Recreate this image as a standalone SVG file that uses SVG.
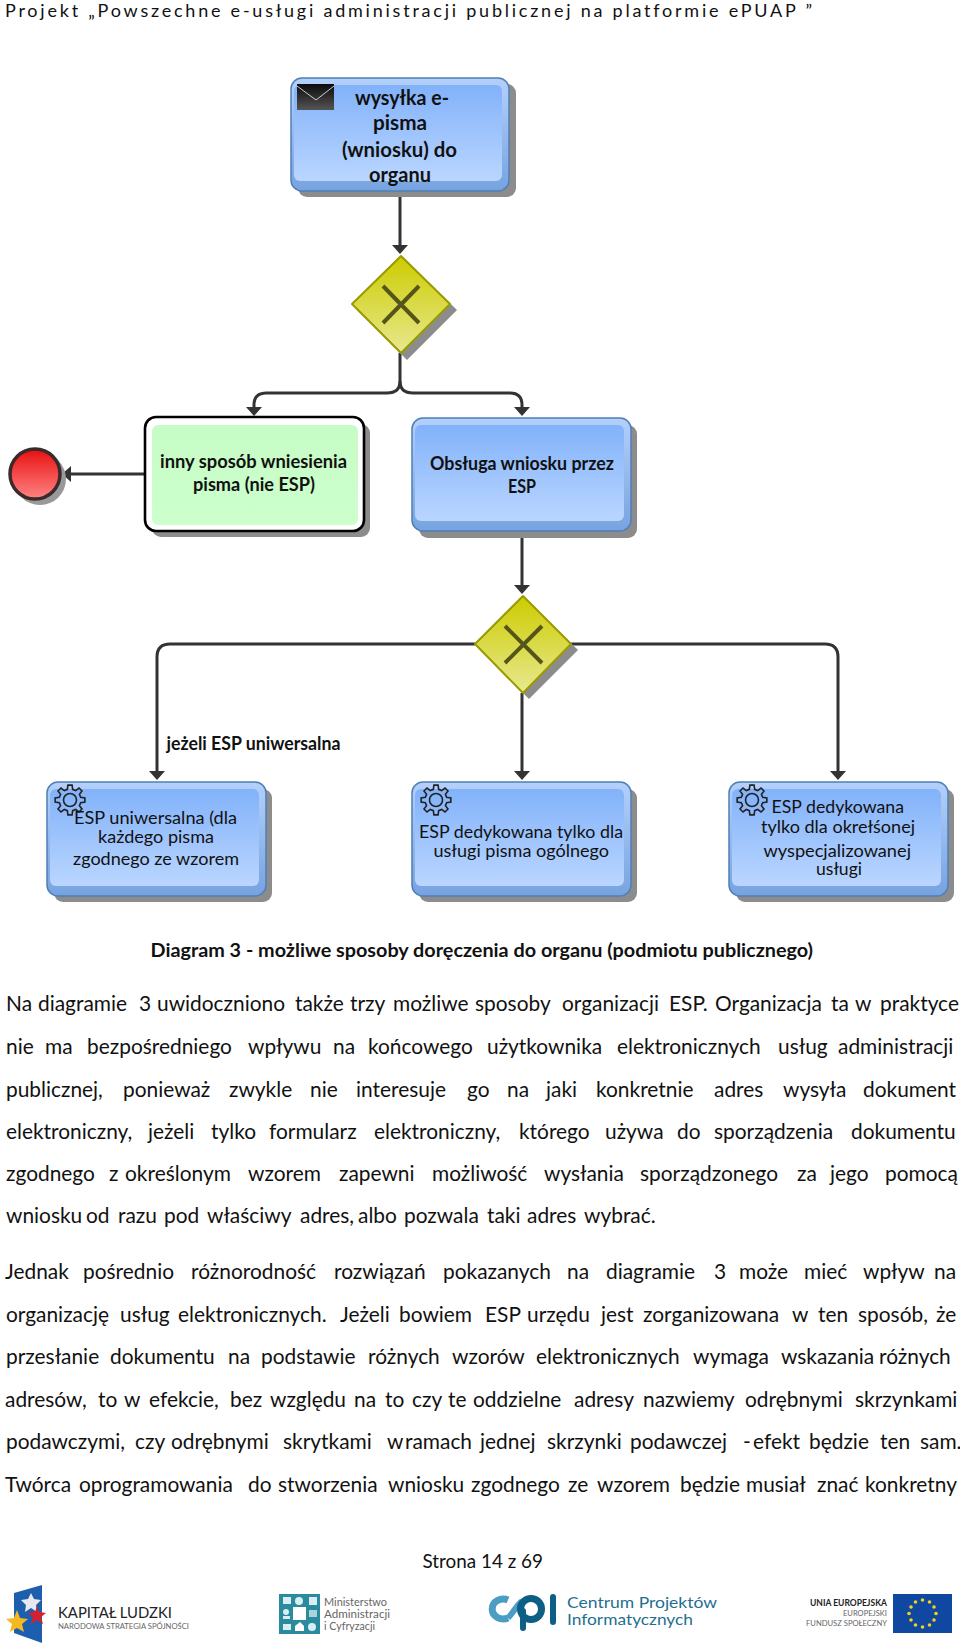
<svg xmlns="http://www.w3.org/2000/svg" width="960" height="1648" viewBox="0 0 960 1648">
<style>
text{font-family:Lato,"Liberation Sans",sans-serif;fill:#111;font-variant-ligatures:none}
.b{font-size:20.900px}
.n{font-size:17.500px;text-anchor:start}
.s{font-weight:700;font-size:18px}
.big{font-weight:700;font-size:20px}
.sh{fill:#8c8c8c}
.box{stroke:#4f7fb5;stroke-width:1.5;fill:url(#bo)}
.in{fill:url(#bi)}
.c{fill:none;stroke:#333;stroke-width:3}
.a{marker-end:url(#ar)}
.g{fill:none;stroke:#222;stroke-width:1.6}
.d{fill:url(#dy);stroke:#9a9a00;stroke-width:2;stroke-linejoin:round}
.x{stroke:#55551a;stroke-width:4;fill:none}
.l{fill:#666}
</style>
<defs>
<linearGradient id="bo" x1="0" y1="0" x2="0" y2="1"><stop offset="0" stop-color="#b4d0fb"/><stop offset="1" stop-color="#76a3e0"/></linearGradient>
<linearGradient id="bi" x1="0" y1="0" x2="0" y2="1"><stop offset="0" stop-color="#82b2fa"/><stop offset="1" stop-color="#bad6ff"/></linearGradient>
<linearGradient id="gi" x1="0" y1="0" x2="0" y2="1"><stop offset="0" stop-color="#c6fcc6"/><stop offset="1" stop-color="#ccffcc"/></linearGradient>
<linearGradient id="dy" x1="0" y1="0" x2="0" y2="1"><stop offset="0" stop-color="#cccc00"/><stop offset="1" stop-color="#e8e890"/></linearGradient>
<linearGradient id="rd" x1="0" y1="0" x2="0" y2="1"><stop offset="0" stop-color="#e80f0f"/><stop offset="1" stop-color="#ff8484"/></linearGradient>
<linearGradient id="ev" x1="0" y1="0" x2="0" y2="1"><stop offset="0" stop-color="#0a0a0a"/><stop offset="1" stop-color="#555"/></linearGradient>
<marker id="ar" markerUnits="userSpaceOnUse" markerWidth="9" markerHeight="16" refX="6" refY="8" orient="auto" viewBox="0 0 9 16"><path d="M0,0L9,8L0,16Z" fill="#333"/></marker>
<path id="gear" class="g" d="M14.85,-2.09L14.85,2.09 10.67,2.66 9.43,5.67 11.98,9.03 9.03,11.98 5.67,9.43 2.66,10.67 2.09,14.85 -2.09,14.85 -2.66,10.67 -5.67,9.43 -9.03,11.98 -11.98,9.03 -9.43,5.67 -10.67,2.66 -14.85,2.09 -14.85,-2.09 -10.67,-2.66 -9.43,-5.67 -11.98,-9.03 -9.03,-11.98 -5.67,-9.43 -2.66,-10.67 -2.09,-14.85 2.09,-14.85 2.66,-10.67 5.67,-9.43 9.03,-11.98 11.98,-9.03 9.43,-5.67 10.67,-2.66Z"/>
</defs>
<rect width="960" height="1648" fill="#fff"/>
<text id="header" x="5" y="17" font-size="18" textLength="807" lengthAdjust="spacing">Projekt „Powszechne e-usługi administracji publicznej na platformie ePUAP ”</text>

<g id="connectors">
<path class="c a" d="M400,190V251"/>
<path class="c a" d="M400,353V381Q400,393 387,393H266Q254,393 254,405V413"/>
<path class="c a" d="M400,381Q400,393 413,393H510Q522,393 522,405V413"/>
<path class="c a" d="M145,474H65"/>
<path class="c a" d="M522,531V591"/>
<path class="c a" d="M475,644H170Q157,644 157,657V777"/>
<path class="c a" d="M522,693V777"/>
<path class="c a" d="M571,644H825Q838,644 838,657V777"/>
</g>

<g id="n-wysylka">
<rect class="sh" x="298" y="84" width="218" height="113" rx="9"/>
<rect class="box" x="291" y="78" width="218" height="113" rx="11"/>
<rect class="in" x="294" y="85" width="208" height="96" rx="6"/>
<rect x="297" y="84" width="37" height="26" fill="url(#ev)"/>
<path d="M297,86L316,100L334,86" fill="none" stroke="#ccc" stroke-width="1"/>
<text class="big" x="355" y="105" textLength="94" lengthAdjust="spacingAndGlyphs">wysyłka e-</text>
<text class="big" x="373" y="130" textLength="54" lengthAdjust="spacingAndGlyphs">pisma</text>
<text class="big" x="342" y="157" textLength="115" lengthAdjust="spacingAndGlyphs">(wniosku) do</text>
<text class="big" x="369" y="182" textLength="62" lengthAdjust="spacingAndGlyphs">organu</text>
</g>

<g id="n-gateway1">
<path class="sh" d="M407,262L457,310L407,360L357,310Z"/>
<path class="d" d="M401,256L450,304L401,353L352,304Z"/>
<path class="x" d="M383,286L419,323M419,286L383,323"/>
</g>

<g id="n-inny">
<rect class="sh" x="152" y="424" width="218" height="113" rx="9"/>
<rect x="145" y="417" width="219" height="114" rx="11" fill="#fff" stroke="#000" stroke-width="2.6"/>
<rect x="152" y="425" width="206" height="100" rx="6" fill="url(#gi)"/>
<text class="s" x="160" y="468" textLength="187" lengthAdjust="spacingAndGlyphs">inny sposób wniesienia</text>
<text class="s" x="193" y="491" textLength="122" lengthAdjust="spacingAndGlyphs">pisma (nie ESP)</text>
</g>

<g id="n-obsluga">
<rect class="sh" x="419" y="425" width="218" height="113" rx="9"/>
<rect class="box" x="412" y="418" width="219" height="113" rx="11"/>
<rect class="in" x="415" y="425" width="209" height="96" rx="6"/>
<text class="s" x="430" y="470" textLength="184" lengthAdjust="spacingAndGlyphs">Obsługa wniosku przez</text>
<text class="s" x="508" y="493" textLength="28" lengthAdjust="spacingAndGlyphs">ESP</text>
</g>

<g id="n-end">
<circle cx="40" cy="479" r="26" fill="#999"/>
<circle cx="35" cy="474" r="25" fill="url(#rd)" stroke="#3a2a2a" stroke-width="3.500"/>
</g>

<g id="n-gateway2">
<path class="sh" d="M529,602L578,650L529,699L480,650Z"/>
<path class="d" d="M523,596L571,644L523,693L475,644Z"/>
<path class="x" d="M505,626L542,663M542,626L505,663"/>
</g>

<text id="label-uni" class="s" x="166.500" y="750" textLength="174" lengthAdjust="spacingAndGlyphs">jeżeli ESP uniwersalna</text>

<g id="n-uni">
<rect class="sh" x="54" y="789" width="218" height="113" rx="9"/>
<rect class="box" x="47" y="782" width="219" height="114" rx="11"/>
<rect class="in" x="50" y="789" width="209" height="97" rx="6"/>
<use href="#gear" transform="translate(70,800)"/><circle class="g" cx="70" cy="800" r="6.500"/>
<text class="n" x="74" y="824" textLength="163" lengthAdjust="spacingAndGlyphs">ESP uniwersalna (dla</text>
<text class="n" x="98" y="843" textLength="116" lengthAdjust="spacingAndGlyphs">każdego pisma</text>
<text class="n" x="73" y="865" textLength="166" lengthAdjust="spacingAndGlyphs">zgodnego ze wzorem</text>
</g>

<g id="n-ogolna">
<rect class="sh" x="419" y="789" width="218" height="113" rx="9"/>
<rect class="box" x="412" y="782" width="219" height="114" rx="11"/>
<rect class="in" x="415" y="789" width="209" height="97" rx="6"/>
<use href="#gear" transform="translate(436,800)"/><circle class="g" cx="436" cy="800" r="6.500"/>
<text class="n" x="419" y="838" textLength="204" lengthAdjust="spacingAndGlyphs">ESP dedykowana tylko dla</text>
<text class="n" x="433.500" y="857" textLength="175.500" lengthAdjust="spacingAndGlyphs">usługi pisma ogólnego</text>
</g>

<g id="n-dedyk">
<rect class="sh" x="736" y="789" width="218" height="113" rx="9"/>
<rect class="box" x="729" y="782" width="219" height="114" rx="11"/>
<rect class="in" x="732" y="789" width="209" height="97" rx="6"/>
<use href="#gear" transform="translate(752,800)"/><circle class="g" cx="752" cy="800" r="6.500"/>
<text class="n" x="771.500" y="813" textLength="132.500" lengthAdjust="spacingAndGlyphs">ESP dedykowana</text>
<text class="n" x="761" y="833" textLength="154" lengthAdjust="spacingAndGlyphs">tylko dla okrełśonej</text>
<text class="n" x="763.500" y="857" textLength="147.500" lengthAdjust="spacingAndGlyphs">wyspecjalizowanej</text>
<text class="n" x="816" y="875" textLength="46" lengthAdjust="spacingAndGlyphs">usługi</text>
</g>

<text id="caption" x="150.500" y="957" font-size="19" font-weight="700" textLength="662.500" lengthAdjust="spacingAndGlyphs">Diagram 3 - możliwe sposoby doręczenia do organu (podmiotu publicznego)</text>

<g id="body">
<text class="b" y="1011"><tspan x="6">Na</tspan><tspan x="38">diagramie</tspan><tspan x="139">3</tspan><tspan x="157">uwidoczniono</tspan><tspan x="295">także</tspan><tspan x="350">trzy</tspan><tspan x="393">możliwe</tspan><tspan x="475">sposoby</tspan><tspan x="562">organizacji</tspan><tspan x="669">ESP.</tspan><tspan x="715">Organizacja</tspan><tspan x="831">ta</tspan><tspan x="855">w</tspan><tspan x="880">praktyce</tspan></text>
<text class="b" y="1054"><tspan x="6">nie</tspan><tspan x="45">ma</tspan><tspan x="87">bezpośredniego</tspan><tspan x="248">wpływu</tspan><tspan x="333">na</tspan><tspan x="368">końcowego</tspan><tspan x="487">użytkownika</tspan><tspan x="617">elektronicznych</tspan><tspan x="778">usług</tspan><tspan x="838">administracji</tspan></text>
<text class="b" y="1097"><tspan x="6">publicznej,</tspan><tspan x="123">ponieważ</tspan><tspan x="229">zwykle</tspan><tspan x="310">nie</tspan><tspan x="356">interesuje</tspan><tspan x="467">go</tspan><tspan x="507">na</tspan><tspan x="546">jaki</tspan><tspan x="596">konkretnie</tspan><tspan x="714">adres</tspan><tspan x="783">wysyła</tspan><tspan x="863">dokument</tspan></text>
<text class="b" y="1139"><tspan x="6">elektroniczny,</tspan><tspan x="148">jeżeli</tspan><tspan x="211">tylko</tspan><tspan x="269">formularz</tspan><tspan x="374">elektroniczny,</tspan><tspan x="519">którego</tspan><tspan x="605">używa</tspan><tspan x="677">do</tspan><tspan x="714">sporządzenia</tspan><tspan x="851">dokumentu</tspan></text>
<text class="b" y="1181"><tspan x="6">zgodnego</tspan><tspan x="109">z</tspan><tspan x="125">określonym</tspan><tspan x="248">wzorem</tspan><tspan x="339">zapewni</tspan><tspan x="432">możliwość</tspan><tspan x="544">wysłania</tspan><tspan x="640">sporządzonego</tspan><tspan x="797">za</tspan><tspan x="830">jego</tspan><tspan x="885">pomocą</tspan></text>
<text class="b" y="1223"><tspan x="6">wniosku</tspan><tspan x="86">od</tspan><tspan x="118">razu</tspan><tspan x="164">pod</tspan><tspan x="207">właściwy</tspan><tspan x="300">adres,</tspan><tspan x="358">albo</tspan><tspan x="404">pozwala</tspan><tspan x="487">taki</tspan><tspan x="527">adres</tspan><tspan x="584">wybrać.</tspan></text>
<text class="b" y="1279"><tspan x="5">Jednak</tspan><tspan x="83">pośrednio</tspan><tspan x="191">różnorodność</tspan><tspan x="334">rozwiązań</tspan><tspan x="443">pokazanych</tspan><tspan x="567">na</tspan><tspan x="606">diagramie</tspan><tspan x="714">3</tspan><tspan x="739">może</tspan><tspan x="804">mieć</tspan><tspan x="863">wpływ</tspan><tspan x="934">na</tspan></text>
<text class="b" y="1322"><tspan x="6">organizację</tspan><tspan x="120">usług</tspan><tspan x="178">elektronicznych.</tspan><tspan x="340">Jeżeli</tspan><tspan x="399">bowiem</tspan><tspan x="485">ESP</tspan><tspan x="527">urzędu</tspan><tspan x="601">jest</tspan><tspan x="643">zorganizowana</tspan><tspan x="792">w</tspan><tspan x="818">ten</tspan><tspan x="858">sposób,</tspan><tspan x="936">że</tspan></text>
<text class="b" y="1364"><tspan x="6">przesłanie</tspan><tspan x="110">dokumentu</tspan><tspan x="228">na</tspan><tspan x="261">podstawie</tspan><tspan x="368">różnych</tspan><tspan x="452">wzorów</tspan><tspan x="536">elektronicznych</tspan><tspan x="693">wymaga</tspan><tspan x="781">wskazania</tspan><tspan x="879">różnych</tspan></text>
<text class="b" y="1407"><tspan x="5">adresów,</tspan><tspan x="98">to</tspan><tspan x="124">w</tspan><tspan x="149">efekcie,</tspan><tspan x="230">bez</tspan><tspan x="270">względu</tspan><tspan x="354">na</tspan><tspan x="385">to</tspan><tspan x="412">czy</tspan><tspan x="448">te</tspan><tspan x="473">oddzielne</tspan><tspan x="574">adresy</tspan><tspan x="643">nazwiemy</tspan><tspan x="745">odrębnymi</tspan><tspan x="855">skrzynkami</tspan></text>
<text class="b" y="1449"><tspan x="6">podawczymi,</tspan><tspan x="135">czy</tspan><tspan x="171">odrębnymi</tspan><tspan x="283">skrytkami</tspan><tspan x="387">w</tspan><tspan x="405">ramach</tspan><tspan x="480">jednej</tspan><tspan x="547">skrzynki</tspan><tspan x="630">podawczej</tspan><tspan x="743">-</tspan><tspan x="753">efekt</tspan><tspan x="809">będzie</tspan><tspan x="880">ten</tspan><tspan x="920">sam.</tspan></text>
<text class="b" y="1492"><tspan x="5">Twórca</tspan><tspan x="79">oprogramowania</tspan><tspan x="248">do</tspan><tspan x="278">stworzenia</tspan><tspan x="388">wniosku</tspan><tspan x="471">zgodnego</tspan><tspan x="568">ze</tspan><tspan x="597">wzorem</tspan><tspan x="680">będzie</tspan><tspan x="746">musiał</tspan><tspan x="817">znać</tspan><tspan x="865">konkretny</tspan></text>
</g>

<text id="page" x="422.500" y="1568" font-size="19" textLength="120.500" lengthAdjust="spacingAndGlyphs">Strona 14 z 69</text>

<g id="logo-kl">
<path d="M14,1593L42,1585V1643L14,1633Z" fill="#1d5fae"/>
<path d="M31,1593L34,1599 41,1600 36,1605 37,1612 31,1608 25,1612 26,1605 21,1600 28,1599Z" fill="#e8e8ee"/>
<path d="M37,1606L39,1612 46,1613 41,1617 43,1624 37,1620 31,1624 33,1617 28,1613 35,1612Z" fill="#d8202c"/>
<path d="M17,1610L20,1618 28,1619 22,1624 24,1632 17,1628 10,1632 12,1624 6,1619 14,1618Z" fill="#f5b820"/>
<text x="58" y="1618" font-size="15" textLength="114" lengthAdjust="spacingAndGlyphs" style="fill:#222">KAPITAŁ LUDZKI</text>
<text class="l" x="58" y="1629" font-size="7.500" textLength="131" lengthAdjust="spacingAndGlyphs">NARODOWA STRATEGIA SPÓJNOŚCI</text>
</g>

<g id="logo-ma">
<rect x="279" y="1594" width="41" height="40" fill="#2a8a9e"/>
<rect x="293" y="1607" width="13" height="13" fill="#fff"/>
<rect x="283" y="1597" width="8" height="7" fill="#d8eef2"/><circle cx="299" cy="1601" r="4" fill="#d8eef2"/><rect x="309" y="1597" width="8" height="8" fill="#d8eef2"/>
<circle cx="286" cy="1612" r="3" fill="#d8eef2"/><rect x="283" y="1616" width="7" height="3" fill="#d8eef2"/><rect x="309" y="1610" width="8" height="7" fill="#a8d4dc"/>
<rect x="283" y="1624" width="8" height="6" fill="#d8eef2"/><path d="M295,1631V1626L300,1622L304,1626V1631Z" fill="#fff"/><circle cx="312" cy="1627" r="4" fill="#d8eef2"/>
<text class="l" x="324" y="1606" font-size="10.500" textLength="63" lengthAdjust="spacingAndGlyphs">Ministerstwo</text>
<text class="l" x="324" y="1618" font-size="10.500" textLength="66" lengthAdjust="spacingAndGlyphs">Administracji</text>
<text class="l" x="324" y="1629.500" font-size="10.500" textLength="51" lengthAdjust="spacingAndGlyphs">i Cyfryzacji</text>
</g>

<g id="logo-cpi">
<path d="M508,1600A11,10 0 1 0 508,1618" fill="none" stroke="#4c9dc4" stroke-width="7"/>
<path d="M508,1618C514,1612 516,1606 522,1601" fill="none" stroke="#4c9dc4" stroke-width="6"/>
<circle cx="531" cy="1609" r="10.500" fill="none" stroke="#0d5f85" stroke-width="7"/>
<path d="M523,1611V1628" stroke="#0d5f85" stroke-width="6" stroke-linecap="round"/>
<path d="M553,1597V1622" stroke="#0d5f85" stroke-width="6" stroke-linecap="round"/>
<text x="567" y="1608" font-size="16" textLength="150" lengthAdjust="spacingAndGlyphs" style="fill:#1f6f8f">Centrum Projektów</text>
<text x="567" y="1625" font-size="16" textLength="126" lengthAdjust="spacingAndGlyphs" style="fill:#1f6f8f">Informatycznych</text>
</g>

<g id="logo-eu">
<rect x="893" y="1594" width="59" height="39" fill="#0f47a1"/>
<g fill="#f2d21a"><circle cx="922.500" cy="1600" r="1.800"/><circle cx="929.500" cy="1602" r="1.800"/><circle cx="934" cy="1607" r="1.800"/><circle cx="936" cy="1613.500" r="1.800"/><circle cx="934" cy="1620" r="1.800"/><circle cx="929.500" cy="1625" r="1.800"/><circle cx="922.500" cy="1627" r="1.800"/><circle cx="915.500" cy="1625" r="1.800"/><circle cx="911" cy="1620" r="1.800"/><circle cx="909" cy="1613.500" r="1.800"/><circle cx="911" cy="1607" r="1.800"/><circle cx="915.500" cy="1602" r="1.800"/></g>
<text x="810" y="1606" font-size="8.500" font-weight="700" textLength="77" lengthAdjust="spacingAndGlyphs" style="fill:#222">UNIA EUROPEJSKA</text>
<text class="l" x="843" y="1616" font-size="8" textLength="44" lengthAdjust="spacingAndGlyphs">EUROPEJSKI</text>
<text class="l" x="806" y="1625.500" font-size="8" textLength="81" lengthAdjust="spacingAndGlyphs">FUNDUSZ SPOŁECZNY</text>
</g>
</svg>
